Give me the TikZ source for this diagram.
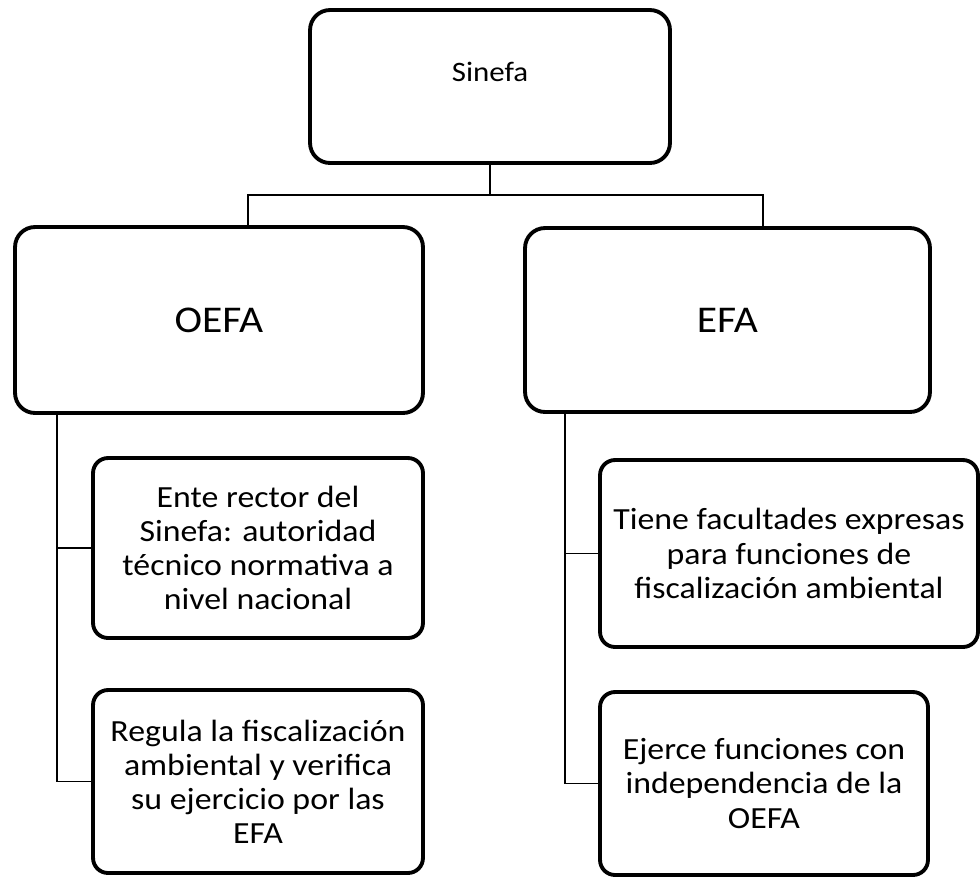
\documentclass[tikz,border=0pt]{standalone}
\usepackage{fontspec}
\setmainfont[FakeStretch=1.1]{Carlito}
\usepackage{tikz}
\usetikzlibrary{calc}

\begin{document}
\begin{tikzpicture}[x=0.02cm,y=-0.02cm,
	caja/.style={draw,line width=2.2pt,rounded corners=0.4cm,align=center,
		font=\fontsize{16}{19.4}\selectfont,inner sep=0pt},
	hijo/.style={caja,rounded corners=0.3cm,font=\fontsize{17.5}{19.4}\selectfont},
	linea/.style={line width=0.6pt}]

	\useasboundingbox (0,0) rectangle (980,877);

	\node[caja,minimum width=7.2cm,minimum height=3.06cm,text depth=0.58cm] (sinefa) at (490,86.5){Sinefa};
	\node[caja,minimum width=8.16cm,minimum height=3.72cm,font=\fontsize{21.5}{26}\selectfont] (oefa) at (219,320){OEFA};
	\node[caja,minimum width=8.1cm,minimum height=3.68cm,font=\fontsize{21.5}{26}\selectfont] (efa) at (727.5,320){EFA};

	\node[hijo,minimum width=6.6cm,minimum height=3.6cm] (ente) at (258,548){Ente rector del\\Sinefa: autoridad\\técnico normativa a\\nivel nacional};
	\node[hijo,minimum width=6.6cm,minimum height=3.66cm] (regula) at (258,781.5){Regula la fiscalización\\ambiental y verifica\\su ejercicio por las\\EFA};
	\node[hijo,minimum width=7.56cm,minimum height=3.74cm] (tiene) at (789,553.5){Tiene facultades expresas\\para funciones de\\fiscalización ambiental};
	\node[hijo,minimum width=6.56cm,minimum height=3.66cm] (ejerce) at (764,783.5){Ejerce funciones con\\independencia de la\\OEFA};

	\coordinate (jl) at (248,195);
	\coordinate (jr) at (763,195);
	\coordinate (bl) at (57,0);
	\coordinate (br) at (565,0);

	\draw[linea] (sinefa.south) -- (sinefa.south |- jl);
	\draw[linea] (jl |- oefa.north) -- (jl) -- (jr) -- (jr |- efa.north);

	\draw[linea] (bl |- oefa.south) |- (regula.west); %rama OEFA
	\draw[linea] (bl |- ente.west) -- (ente.west);
	\draw[linea] (br |- efa.south) |- (ejerce.west); %rama EFA
	\draw[linea] (br |- tiene.west) -- (tiene.west);

\end{tikzpicture}
\end{document}
